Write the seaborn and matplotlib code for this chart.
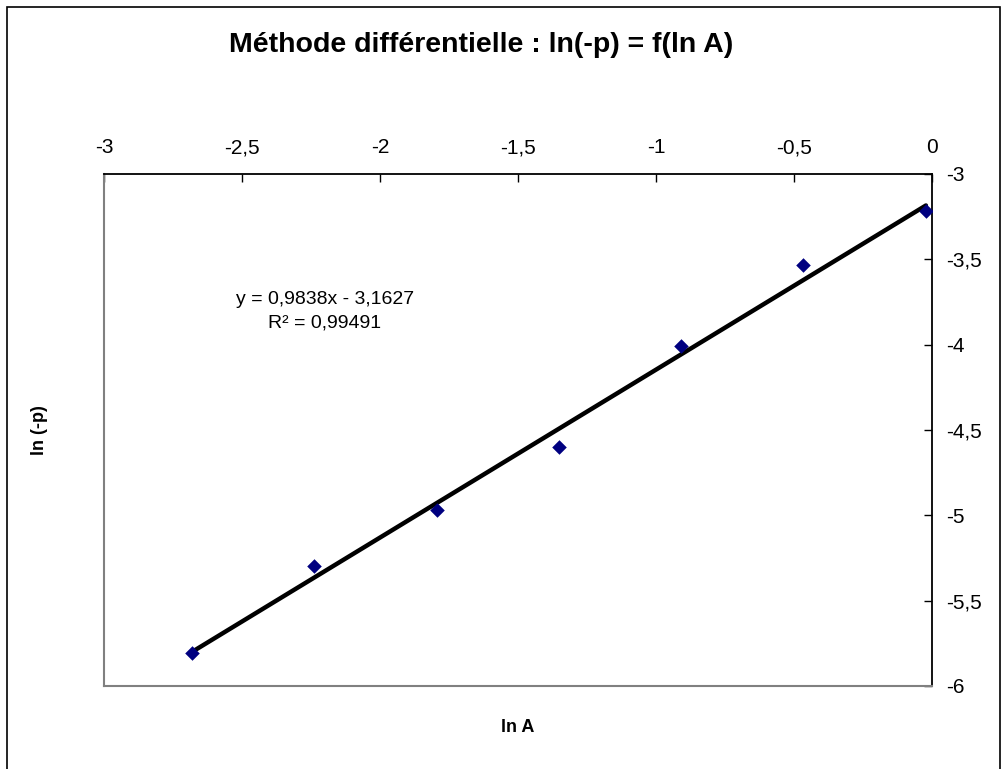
import matplotlib
matplotlib.use("Agg")
import matplotlib.pyplot as plt
import seaborn as sns
import numpy as np
import pandas as pd
from matplotlib.ticker import FuncFormatter, MultipleLocator
from matplotlib.patches import Rectangle

# Data
ln_A = [-2.682, -2.239, -1.793, -1.353, -0.911, -0.467, -0.022]
ln_minus_p = [-5.806, -5.295, -4.968, -4.601, -4.008, -3.533, -3.217]
slope = 0.9838
intercept = -3.1627
r2_text = "R² = 0,99491"
eq_text = "y = 0,9838x - 3,1627"
title = "Méthode différentielle : ln(-p) = f(ln A)"

df = pd.DataFrame({"lnA": ln_A, "lnp": ln_minus_p})
x_fit = np.array([min(ln_A), max(ln_A)])
fit = pd.DataFrame({"lnA": x_fit, "lnp": slope * x_fit + intercept})

sns.set_theme(style="white")
plt.rcParams['font.family'] = ['Liberation Sans', 'DejaVu Sans']
plt.rcParams['text.color'] = 'black'
plt.rcParams['xtick.color'] = 'black'
plt.rcParams['ytick.color'] = 'black'
plt.rcParams['axes.labelcolor'] = 'black'

fig = plt.figure(figsize=(10.07, 7.69), dpi=100)
ax = fig.add_axes([104/1007, 1-686/769, (932-104)/1007, (686-174)/769])

sns.lineplot(data=fit, x="lnA", y="lnp", ax=ax, color="black", linewidth=3.2, zorder=2)
sns.scatterplot(data=df, x="lnA", y="lnp", ax=ax, marker="D", s=55, color="#000080",
                edgecolor="#000080", linewidth=0, zorder=3)

ax.set_xlim(-3, 0)
ax.set_ylim(-6, -3)
ax.xaxis.set_major_locator(MultipleLocator(0.5))
ax.yaxis.set_major_locator(MultipleLocator(0.5))
fmt = FuncFormatter(lambda v, p: ("%g" % v).replace(".", ","))
ax.xaxis.set_major_formatter(fmt)
ax.yaxis.set_major_formatter(fmt)
ax.xaxis.tick_top()
ax.yaxis.tick_right()
ax.tick_params(axis="both", which="major", direction="in", length=6, width=1,
               color="black", labelsize=15, pad=10)
ax.tick_params(axis="x", pad=12)

for side in ["top", "right"]:
    ax.spines[side].set_color("black")
    ax.spines[side].set_linewidth(1.3)
for side in ["left", "bottom"]:
    ax.spines[side].set_color("#808080")
    ax.spines[side].set_linewidth(1.5)
    ax.spines[side].set_visible(True)

ax.set_xlabel("ln A", fontsize=13, fontweight="bold", labelpad=24)
ax.xaxis.set_label_position("bottom")
ax.set_ylabel("ln (-p)", fontsize=13, fontweight="bold", labelpad=40)
ax.yaxis.set_label_position("left")

ax.text(325/1007, 1-300/769, eq_text, transform=fig.transFigure, ha="center",
        va="center", fontsize=14)
ax.text(325/1007, 1-323/769, r2_text, transform=fig.transFigure, ha="center",
        va="center", fontsize=14)

fig.text(481/1007, 1-45/769, title, ha="center", va="center", fontsize=20.5,
         fontweight="bold")

fig.patches.append(Rectangle((7/1007, -0.02), (1000-7)/1007, 1.02-7/769,
                             transform=fig.transFigure, fill=False,
                             edgecolor="black", linewidth=1.2))

fig.savefig("out.png", dpi=100)
